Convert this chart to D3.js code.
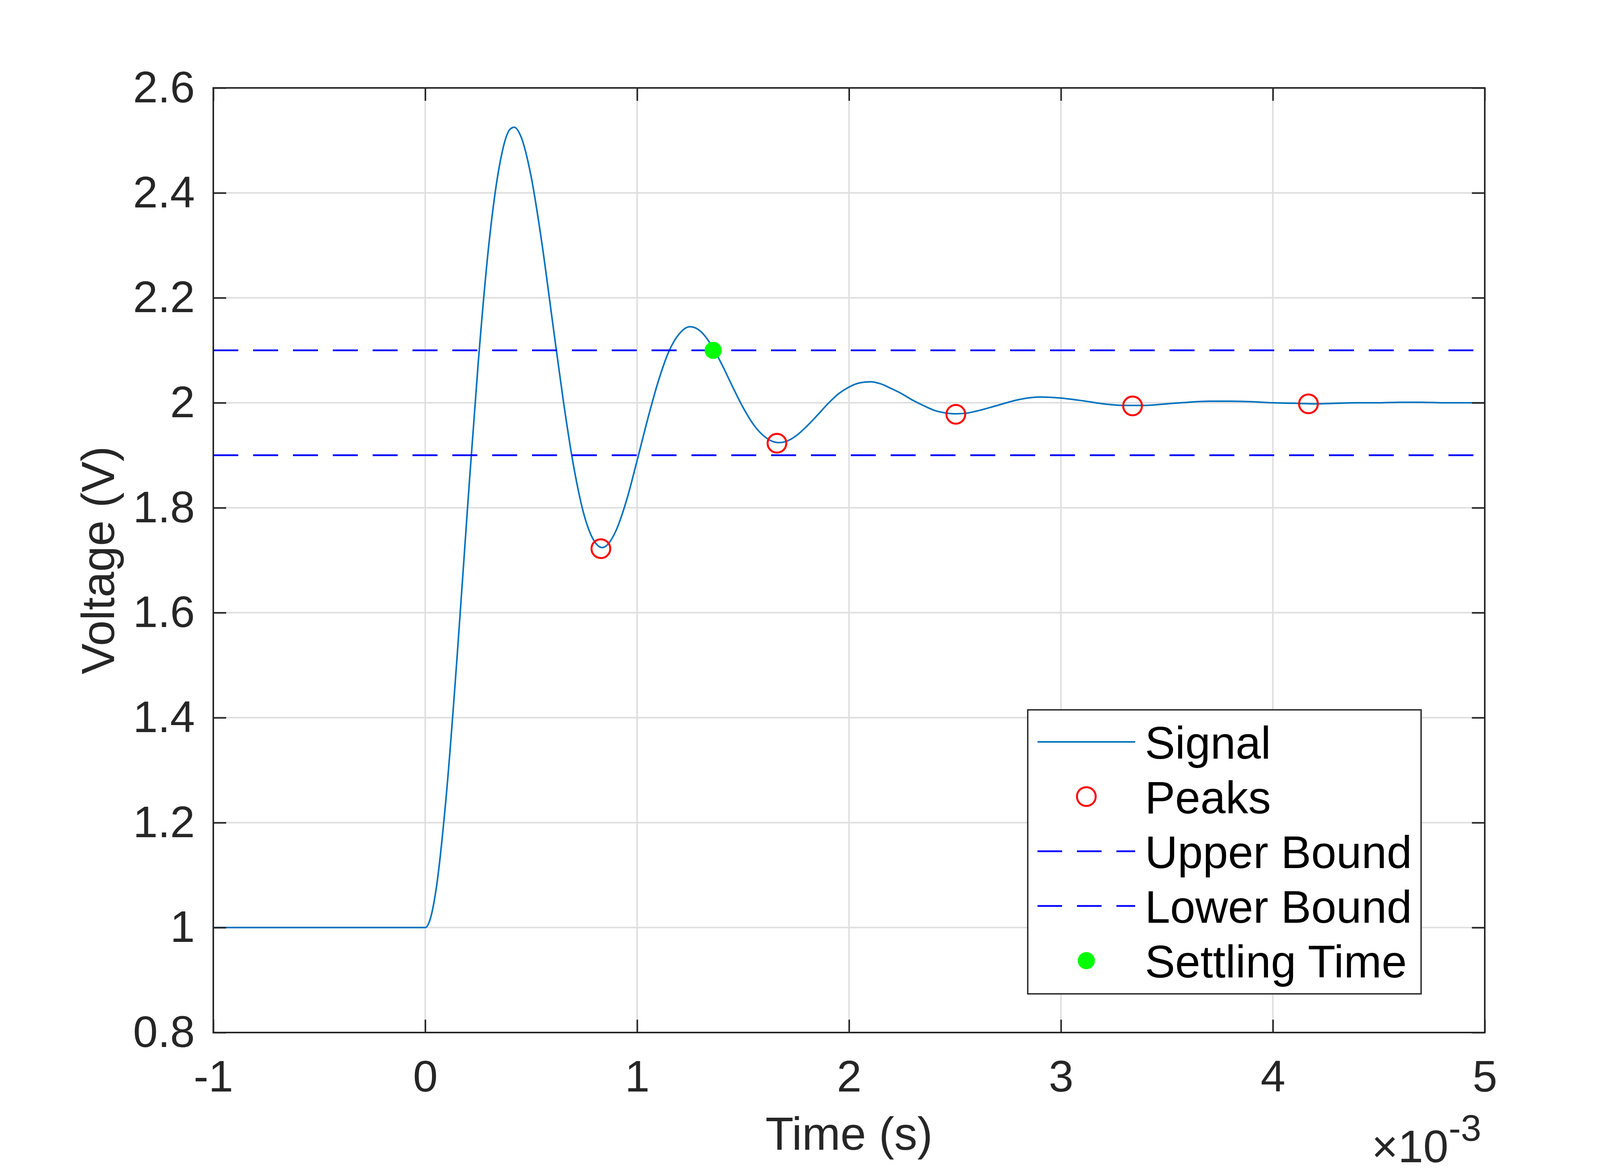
<!DOCTYPE html>
<html>
<head>
<meta charset="utf-8">
<script src="https://cdn.jsdelivr.net/npm/d3@7"></script>
<style>
  html, body { margin: 0; padding: 0; background: #ffffff; }
  svg { display: block; }
  text { font-family: "Liberation Sans", Arial, Helvetica, sans-serif; }
</style>
</head>
<body>
<svg id="chart" width="4200" height="3000"></svg>
<script>
// ---- data (time in units of 1e-3 s) ----
const timeMs = [-1, -0.05, 0, 0.025, 0.05, 0.1, 0.15, 0.2, 0.25, 0.3, 0.35, 0.4, 0.42, 0.45, 0.5, 0.55, 0.6, 0.65, 0.7, 0.75, 0.8, 0.835, 0.85, 0.9, 0.95, 1.0, 1.05, 1.1, 1.15, 1.2, 1.25, 1.3, 1.35, 1.4, 1.45, 1.5, 1.55, 1.6, 1.65, 1.67, 1.7, 1.75, 1.8, 1.85, 1.9, 1.95, 2.0, 2.05, 2.1, 2.15, 2.2, 2.25, 2.3, 2.35, 2.4, 2.45, 2.5, 2.55, 2.6, 2.7, 2.8, 2.9, 3.0, 3.1, 3.2, 3.3, 3.4, 3.5, 3.6, 3.7, 3.8, 3.9, 4.0, 4.1, 4.2, 4.3, 4.4, 4.5, 4.6, 4.7, 4.8, 4.9, 5.0];
const voltage = [1, 1, 1, 1.018, 1.069, 1.254, 1.513, 1.801, 2.075, 2.300, 2.451, 2.521, 2.525, 2.509, 2.431, 2.306, 2.157, 2.009, 1.880, 1.786, 1.735, 1.724, 1.726, 1.756, 1.814, 1.890, 1.969, 2.041, 2.098, 2.132, 2.145, 2.136, 2.110, 2.073, 2.031, 1.991, 1.958, 1.936, 1.925, 1.924, 1.926, 1.937, 1.955, 1.976, 1.998, 2.017, 2.030, 2.038, 2.040, 2.036, 2.027, 2.017, 2.005, 1.995, 1.986, 1.981, 1.979, 1.980, 1.984, 1.995, 2.006, 2.011, 2.009, 2.004, 1.998, 1.995, 1.995, 1.998, 2.001, 2.003, 2.003, 2.002, 2.000, 1.999, 1.998, 1.999, 2.000, 2.000, 2.001, 2.001, 2.000, 2.000, 2.000];
const peakTimeMs = [0.829, 1.660, 2.504, 3.338, 4.168];
const peakVoltage = [1.722, 1.923, 1.978, 1.994, 1.998];
const settleTimeMs = [1.359];
const settleVoltage = [2.1];
const upperBound = 2.1;
const lowerBound = 1.9;
const xDomain = [-1, 5];
const yDomain = [0.8, 2.6];
const xTicks = [-1, 0, 1, 2, 3, 4, 5];
const xTickLabels = ["-1", "0", "1", "2", "3", "4", "5"];
const yTicks = [0.8, 1, 1.2, 1.4, 1.6, 1.8, 2, 2.2, 2.4, 2.6];
const yTickLabels = ["0.8", "1", "1.2", "1.4", "1.6", "1.8", "2", "2.2", "2.4", "2.6"];
const legendLabels = ["Signal", "Peaks", "Upper Bound", "Lower Bound", "Settling Time"];
const xLabel = "Time (s)";
const yLabel = "Voltage (V)";
const xExponent = "-3";

// ---- layout ----
const L = 546, R = 3801, T = 225, B = 2643;
const axisColor = "#262626";
const gridColor = "#dfdfdf";
const tickFont = 114, labelFont = 118, legendFont = 116;
const tickLen = 33;

const svg = d3.select("#chart");
const x = d3.scaleLinear().domain(xDomain).range([L, R]);
const y = d3.scaleLinear().domain(yDomain).range([B, T]);

svg.append("rect").attr("width", 4200).attr("height", 3000).attr("fill", "#fff");

// grid
const grid = svg.append("g");
grid.selectAll("line.gx").data(xTicks).join("line")
  .attr("x1", d => x(d)).attr("x2", d => x(d)).attr("y1", T).attr("y2", B)
  .attr("stroke", gridColor).attr("stroke-width", 4);
grid.selectAll("line.gy").data(yTicks).join("line")
  .attr("y1", d => y(d)).attr("y2", d => y(d)).attr("x1", L).attr("x2", R)
  .attr("stroke", gridColor).attr("stroke-width", 4);

// data layer
const plot = svg.append("g");
const pts = timeMs.map((t, i) => [t, voltage[i]]);
plot.append("path").datum(pts)
  .attr("fill", "none").attr("stroke", "#0072BD").attr("stroke-width", 4)
  .attr("stroke-linejoin", "round")
  .attr("d", d3.line().x(d => x(d[0])).y(d => y(d[1])).curve(d3.curveMonotoneX));

[upperBound, lowerBound].forEach(b => {
  plot.append("line")
    .attr("x1", x(xDomain[0])).attr("x2", x(xDomain[1]))
    .attr("y1", y(b)).attr("y2", y(b))
    .attr("stroke", "#0000ff").attr("stroke-width", 4.5)
    .attr("stroke-dasharray", "64 38");
});

plot.selectAll("circle.peak").data(peakTimeMs).join("circle")
  .attr("class", "peak")
  .attr("cx", d => x(d)).attr("cy", (d, i) => y(peakVoltage[i]))
  .attr("r", 24).attr("fill", "none").attr("stroke", "#ff0000").attr("stroke-width", 5);

plot.selectAll("circle.settle").data(settleTimeMs).join("circle")
  .attr("class", "settle")
  .attr("cx", d => x(d)).attr("cy", (d, i) => y(settleVoltage[i]))
  .attr("r", 22).attr("fill", "#00ff00");

// axes
function styleAxis(g) {
  g.select(".domain").remove();
  g.selectAll(".tick line").attr("stroke", axisColor).attr("stroke-width", 4);
  g.selectAll(".tick text").attr("fill", axisColor).attr("font-size", tickFont)
    .attr("font-family", "Liberation Sans, Arial, sans-serif");
}
svg.append("g").attr("transform", `translate(0,${B})`)
  .call(d3.axisBottom(x).tickValues(xTicks).tickFormat((d, i) => xTickLabels[i]).tickSize(-tickLen).tickPadding(70))
  .call(styleAxis);
svg.append("g").attr("transform", `translate(0,${T})`)
  .call(d3.axisTop(x).tickValues(xTicks).tickFormat("").tickSize(-tickLen))
  .call(styleAxis);
svg.append("g").attr("transform", `translate(${L},0)`)
  .call(d3.axisLeft(y).tickValues(yTicks).tickFormat((d, i) => yTickLabels[i]).tickSize(-tickLen).tickPadding(47))
  .call(styleAxis);
svg.append("g").attr("transform", `translate(${R},0)`)
  .call(d3.axisRight(y).tickValues(yTicks).tickFormat("").tickSize(-tickLen))
  .call(styleAxis);

// box
svg.append("rect").attr("x", L).attr("y", T).attr("width", R - L).attr("height", B - T)
  .attr("fill", "none").attr("stroke", axisColor).attr("stroke-width", 4);

// labels
svg.append("text").attr("x", (L + R) / 2).attr("y", 2943)
  .attr("text-anchor", "middle").attr("font-size", labelFont).attr("fill", axisColor)
  .text(xLabel);
svg.append("text")
  .attr("transform", `translate(292,${(T + B) / 2}) rotate(-90)`)
  .attr("text-anchor", "middle").attr("font-size", labelFont).attr("fill", axisColor)
  .text(yLabel);

// exponent
svg.append("text").attr("x", 3792).attr("y", 2920)
  .attr("text-anchor", "end").attr("font-size", 94).attr("fill", axisColor)
  .text(xExponent);
svg.append("text").attr("x", 3708).attr("y", 2975)
  .attr("text-anchor", "end").attr("font-size", 116).attr("fill", axisColor)
  .text("\u00D710");

// legend
const lg = svg.append("g");
const lgX = 2631, lgY = 1817, lgW = 1007, lgH = 727;
lg.append("rect").attr("x", lgX).attr("y", lgY).attr("width", lgW).attr("height", lgH)
  .attr("fill", "#fff").attr("stroke", axisColor).attr("stroke-width", 3.5);
const rowY = d3.scalePoint().domain(legendLabels).range([1899, 2459]);
const sx0 = 2656, sx1 = 2906, smid = 2781, tx = 2931;
legendLabels.forEach((lab, i) => {
  const yy = rowY(lab);
  if (i === 0) {
    lg.append("line").attr("x1", sx0).attr("x2", sx1).attr("y1", yy).attr("y2", yy)
      .attr("stroke", "#0072BD").attr("stroke-width", 4);
  } else if (i === 1) {
    lg.append("circle").attr("cx", smid).attr("cy", yy).attr("r", 24)
      .attr("fill", "none").attr("stroke", "#ff0000").attr("stroke-width", 5);
  } else if (i === 2 || i === 3) {
    lg.append("line").attr("x1", sx0).attr("x2", sx1).attr("y1", yy).attr("y2", yy)
      .attr("stroke", "#0000ff").attr("stroke-width", 4.5).attr("stroke-dasharray", "63 38");
  } else {
    lg.append("circle").attr("cx", smid).attr("cy", yy).attr("r", 22).attr("fill", "#00ff00");
  }
  lg.append("text").attr("x", tx).attr("y", yy + 0.37 * legendFont)
    .attr("font-size", legendFont).attr("fill", "#000").text(lab);
});
</script>
</body>
</html>
